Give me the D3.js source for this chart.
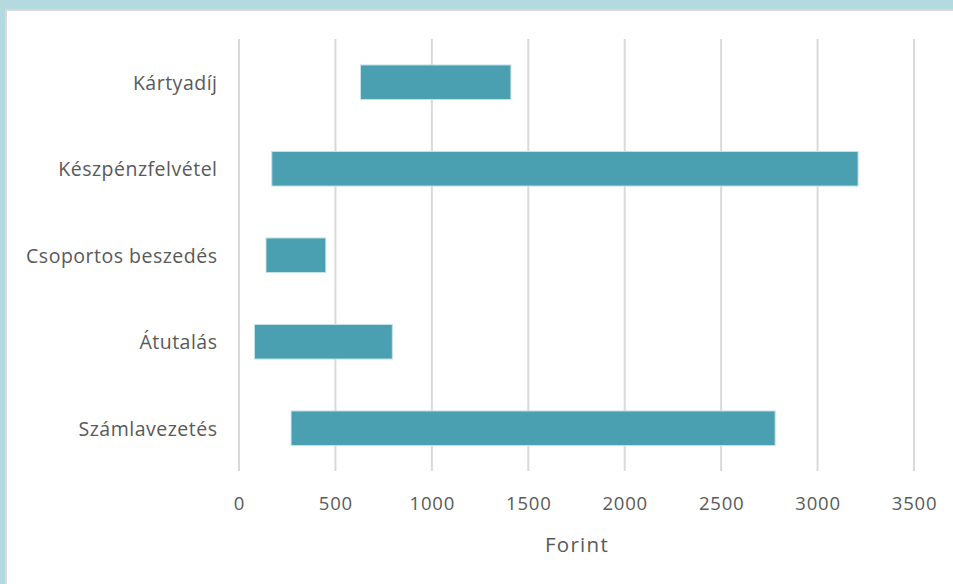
<!DOCTYPE html>
<html>
<head>
<meta charset="utf-8">
<script src="https://cdn.jsdelivr.net/npm/d3@7"></script>
<style>
  html, body { margin: 0; padding: 0; background: #b4dadf; }
  svg { display: block; }
</style>
</head>
<body>
<svg id="chart" width="953" height="584"></svg>
<script>
const categories = ["Kártyadíj", "Készpénzfelvétel", "Csoportos beszedés", "Átutalás", "Számlavezetés"];
const minValues = [630, 170, 140, 80, 270];
const maxValues = [1410, 3210, 450, 795, 2780];
const tickValues = [0, 500, 1000, 1500, 2000, 2500, 3000, 3500];
const axisTitle = "Forint";

const svg = d3.select("#chart");
const W = 953, H = 584;

// background panel
svg.append("rect").attr("x", 0).attr("y", 0).attr("width", W).attr("height", H).attr("fill", "#b4dadf");
svg.append("rect").attr("x", 5).attr("y", 9).attr("width", W - 5).attr("height", H - 9).attr("fill", "#d9d9d9");
svg.append("rect").attr("x", 7).attr("y", 11).attr("width", W - 7).attr("height", H - 11).attr("fill", "#ffffff");

const x = d3.scaleLinear().domain([0, 3500]).range([239, 914]);
const y = d3.scaleBand().domain(categories).range([39, 471.5]).paddingInner(0.6).paddingOuter(0.3);

const font = "'Open Sans', sans-serif";
const textColor = "#595959";

// gridlines
svg.append("g").selectAll("line").data(tickValues).join("line")
  .attr("x1", d => x(d)).attr("x2", d => x(d))
  .attr("y1", 39).attr("y2", 471)
  .attr("stroke", "#d9d9d9").attr("stroke-width", 2);

// bars
const data = categories.map((c, i) => ({ c, lo: minValues[i], hi: maxValues[i] }));
svg.append("g").selectAll("rect").data(data).join("rect")
  .attr("x", d => x(d.lo))
  .attr("y", d => y(d.c))
  .attr("width", d => x(d.hi) - x(d.lo))
  .attr("height", y.bandwidth())
  .attr("fill", "#4aa0b0")
  .attr("stroke", "#c6e3e8").attr("stroke-width", 1);

// category labels
const yAxis = d3.axisLeft(y).tickSize(0).tickPadding(0);
const gy = svg.append("g").attr("transform", "translate(217.5,0)").call(yAxis);
gy.select(".domain").remove();
gy.selectAll("text")
  .attr("font-family", font).attr("font-size", 19.5).attr("letter-spacing", 0.5)
  .attr("fill", textColor).attr("dy", 7.3);

// x tick labels
const xAxis = d3.axisBottom(x).tickValues(tickValues).tickSize(0).tickPadding(0).tickFormat(d3.format("d"));
const gx = svg.append("g").attr("transform", "translate(0,0)").call(xAxis);
gx.select(".domain").remove();
gx.selectAll("text")
  .attr("font-family", font).attr("font-size", 18.5).attr("letter-spacing", 0.8)
  .attr("fill", textColor).attr("y", 510.2).attr("dy", 0);

// axis title
svg.append("text").attr("x", 577).attr("y", 552).attr("text-anchor", "middle")
  .attr("font-family", font).attr("font-size", 20.5).attr("letter-spacing", 1.3)
  .attr("fill", textColor).text(axisTitle);
</script>
</body>
</html>
